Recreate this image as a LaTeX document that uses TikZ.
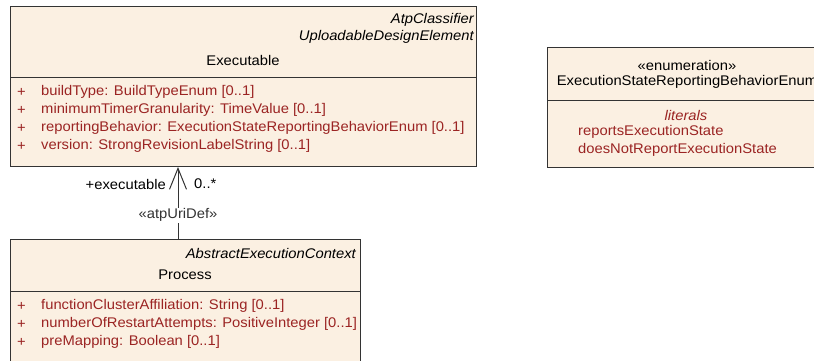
\documentclass[tikz,border=0pt]{standalone}
\usepackage{fontspec}
\setmainfont{Liberation Sans}[FakeStretch=1.055]
\usetikzlibrary{arrows.meta, positioning}
\definecolor{umlfill}{HTML}{FBF0E2}
\definecolor{umltext}{HTML}{9B2423}
\definecolor{umlline}{HTML}{333333}

\begin{document}
\begin{tikzpicture}[x=1pt, y=-1pt,
  cls/.style={rectangle, draw=umlline, fill=umlfill, line width=1pt, anchor=north west, inner sep=0pt},
  stereo/.style={font=\fontsize{14}{16}\selectfont\itshape, anchor=east, inner sep=0pt},
  cname/.style={font=\fontsize{14}{16}\selectfont, inner sep=0pt},
  attr/.style={font=\fontsize{14}{16}\selectfont, text=umltext, anchor=west, inner sep=0pt},
  rel/.style={font=\fontsize{14}{16}\selectfont, inner sep=1pt}
]
  \useasboundingbox (0,0) rectangle (814,360);
  \clip (0,0) rectangle (814,360);

  \node[cls, minimum width=466pt, minimum height=160pt] (exe) at (10,6) {};
  \node[stereo] (exest1) at (474,20) {AtpClassifier};
  \node[stereo] (exest2) at (474,37) {UploadableDesignElement};
  \node[cname] (exename) at (243,60) {Executable};
  \draw[umlline, line width=1pt] (10,77) -- (476,77);
  \node[attr] (exep1) at (17,92) {+};
  \node[attr] (exea1) at (41,92) {buildType: BuildTypeEnum [0..1]};
  \node[attr] (exep2) at (17,110) {+};
  \node[attr] (exea2) at (41,110) {minimumTimerGranularity: TimeValue [0..1]};
  \node[attr] (exep3) at (17,128) {+};
  \node[attr] (exea3) at (41,128) {reportingBehavior: ExecutionStateReportingBehaviorEnum [0..1]};
  \node[attr] (exep4) at (17,146) {+};
  \node[attr] (exea4) at (41,146) {version: StrongRevisionLabelString [0..1]};

  \node[cls, minimum width=280pt, minimum height=120pt] (enum) at (547,47) {};
  \node[cname] (enumst) at (687,65) {«enumeration»};
  \node[cname] (enumname) at (687,82) {ExecutionStateReportingBehaviorEnum};
  \draw[umlline, line width=1pt] (547,100) -- (827,100);
  \node[cname, text=umltext, font=\fontsize{14}{16}\selectfont\itshape] (enumlit) at (686,115) {literals};
  \node[attr] (enuml1) at (578,132) {reportsExecutionState};
  \node[attr] (enuml2) at (578,150) {doesNotReportExecutionState};

  \node[cls, minimum width=350pt, minimum height=140pt] (proc) at (10,239) {};
  \node[stereo] (procst) at (356,253) {AbstractExecutionContext};
  \node[cname] (procname) at (185,275) {Process};
  \draw[umlline, line width=1pt] (10,291) -- (360,291);
  \node[attr] (procp1) at (17,306) {+};
  \node[attr] (proca1) at (41,306) {functionClusterAffiliation: String [0..1]};
  \node[attr] (procp2) at (17,324) {+};
  \node[attr] (proca2) at (41,324) {numberOfRestartAttempts: PositiveInteger [0..1]};
  \node[attr] (procp3) at (17,342) {+};
  \node[attr] (proca3) at (41,342) {preMapping: Boolean [0..1]};

  \coordinate (urisrc) at (proc.north west -| 178,0);
  \coordinate (uritgt) at (exe.south west -| 178,0);
  \draw[umlline, line width=1pt, -{Straight Barb[length=21pt, width=17pt, line width=1pt]}]
    (urisrc) -- node[rel, pos=0.33, fill=white] (urilabel) {«atpUriDef»} (uritgt);
  \node[rel, anchor=east] (urirole) at (167,184) {+executable};
  \node[rel, anchor=west] (urimult) at (193,184) {0..*};
\end{tikzpicture}
\end{document}
